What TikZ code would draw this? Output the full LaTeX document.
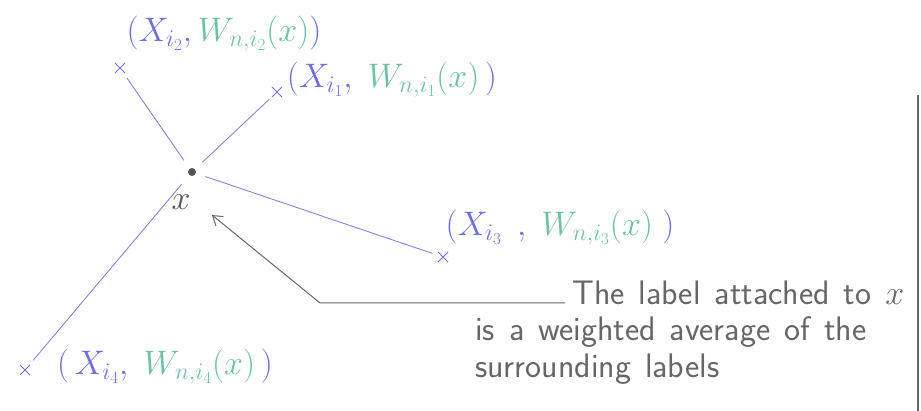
\RequirePackage{fix-cm}
\documentclass[tikz,border=0pt]{standalone}
\usetikzlibrary{arrows.meta,shapes.misc}
\definecolor{pblue}{HTML}{6E6EDC}
\definecolor{plineblue}{HTML}{8484D8}
\definecolor{pgreen}{HTML}{6CC2A2}
\definecolor{pgray}{HTML}{555555}
\definecolor{ptext}{HTML}{666666}
\newcommand{\notefont}{\sffamily\fontsize{34}{34}\selectfont\spaceskip=14pt\relax}
\begin{document}
\begin{tikzpicture}[x=1pt,y=-1pt,
  crossmark/.style={cross out,draw=pblue,line width=1pt,minimum size=9pt,inner sep=0pt},
  ray/.style={plineblue,line width=0.9pt},
  pairlabel/.style={font=\fontsize{34}{34}\selectfont,inner sep=0pt},
  note/.style={ptext,font=\notefont,inner sep=0pt,anchor=base west},
  pointer/.style={ptext,line width=1pt,-{Straight Barb[length=9pt,width=12pt]}}]
\useasboundingbox (0,0) rectangle (921,411);
% centre point
\node[circle,fill=pgray,minimum size=8pt,inner sep=0pt] (c) at (192,172) {};
\node[pgray,font=\fontsize{34}{34}\selectfont,inner sep=0pt] (xl) at (181,202) {$x$};
% data points
\node[crossmark] (p2) at (120,68) {};
\node[crossmark] (p1) at (277,92) {};
\node[crossmark] (p3) at (443,257) {};
\node[crossmark] (p4) at (25,370) {};
% rays
\draw[ray,shorten <=6pt,shorten >=10pt] (p2) -- (c);
\draw[ray,shorten <=4pt,shorten >=10pt] (p1) -- (c);
\draw[ray,shorten <=6pt,shorten >=10pt] (p3) -- (c);
\draw[ray,shorten <=6pt,shorten >=12pt] (p4) -- (c);
% labels
\node[pairlabel] (l2) at (224,34) {$\color{pblue}(X_{i_2},{\color{pgreen}W_{n,i_2}(x)})$};
\node[pairlabel] (l1) at (392,80) {$\color{pblue}(X_{i_1},\;{\color{pgreen}W_{n,i_1}(x)}\,)$};
\node[pairlabel] (l3) at (560,228) {$\color{pblue}(X_{i_3}\;\,,\;{\color{pgreen}W_{n,i_3}(x)}\;)$};
\node[pairlabel] (l4) at (165,367) {$\color{pblue}(\,X_{i_4},\;{\color{pgreen}W_{n,i_4}(x)}\,)$};
% annotation
\coordinate (a0) at (565,303);
\coordinate (a1) at (320,303);
\coordinate (a2) at (212,215);
\draw[pointer] (a0) -- (a1) -- (a2);
\node[note] (t1) at (572,305) {The label attached to $x$};
\node[note] (t2) at (475,341) {is a weighted average of the};
\node[note] (t3) at (475,378) {surrounding labels};
% page edge
\draw[ptext,line width=1.5pt] (918,95) -- (918,411);
\end{tikzpicture}
\end{document}
